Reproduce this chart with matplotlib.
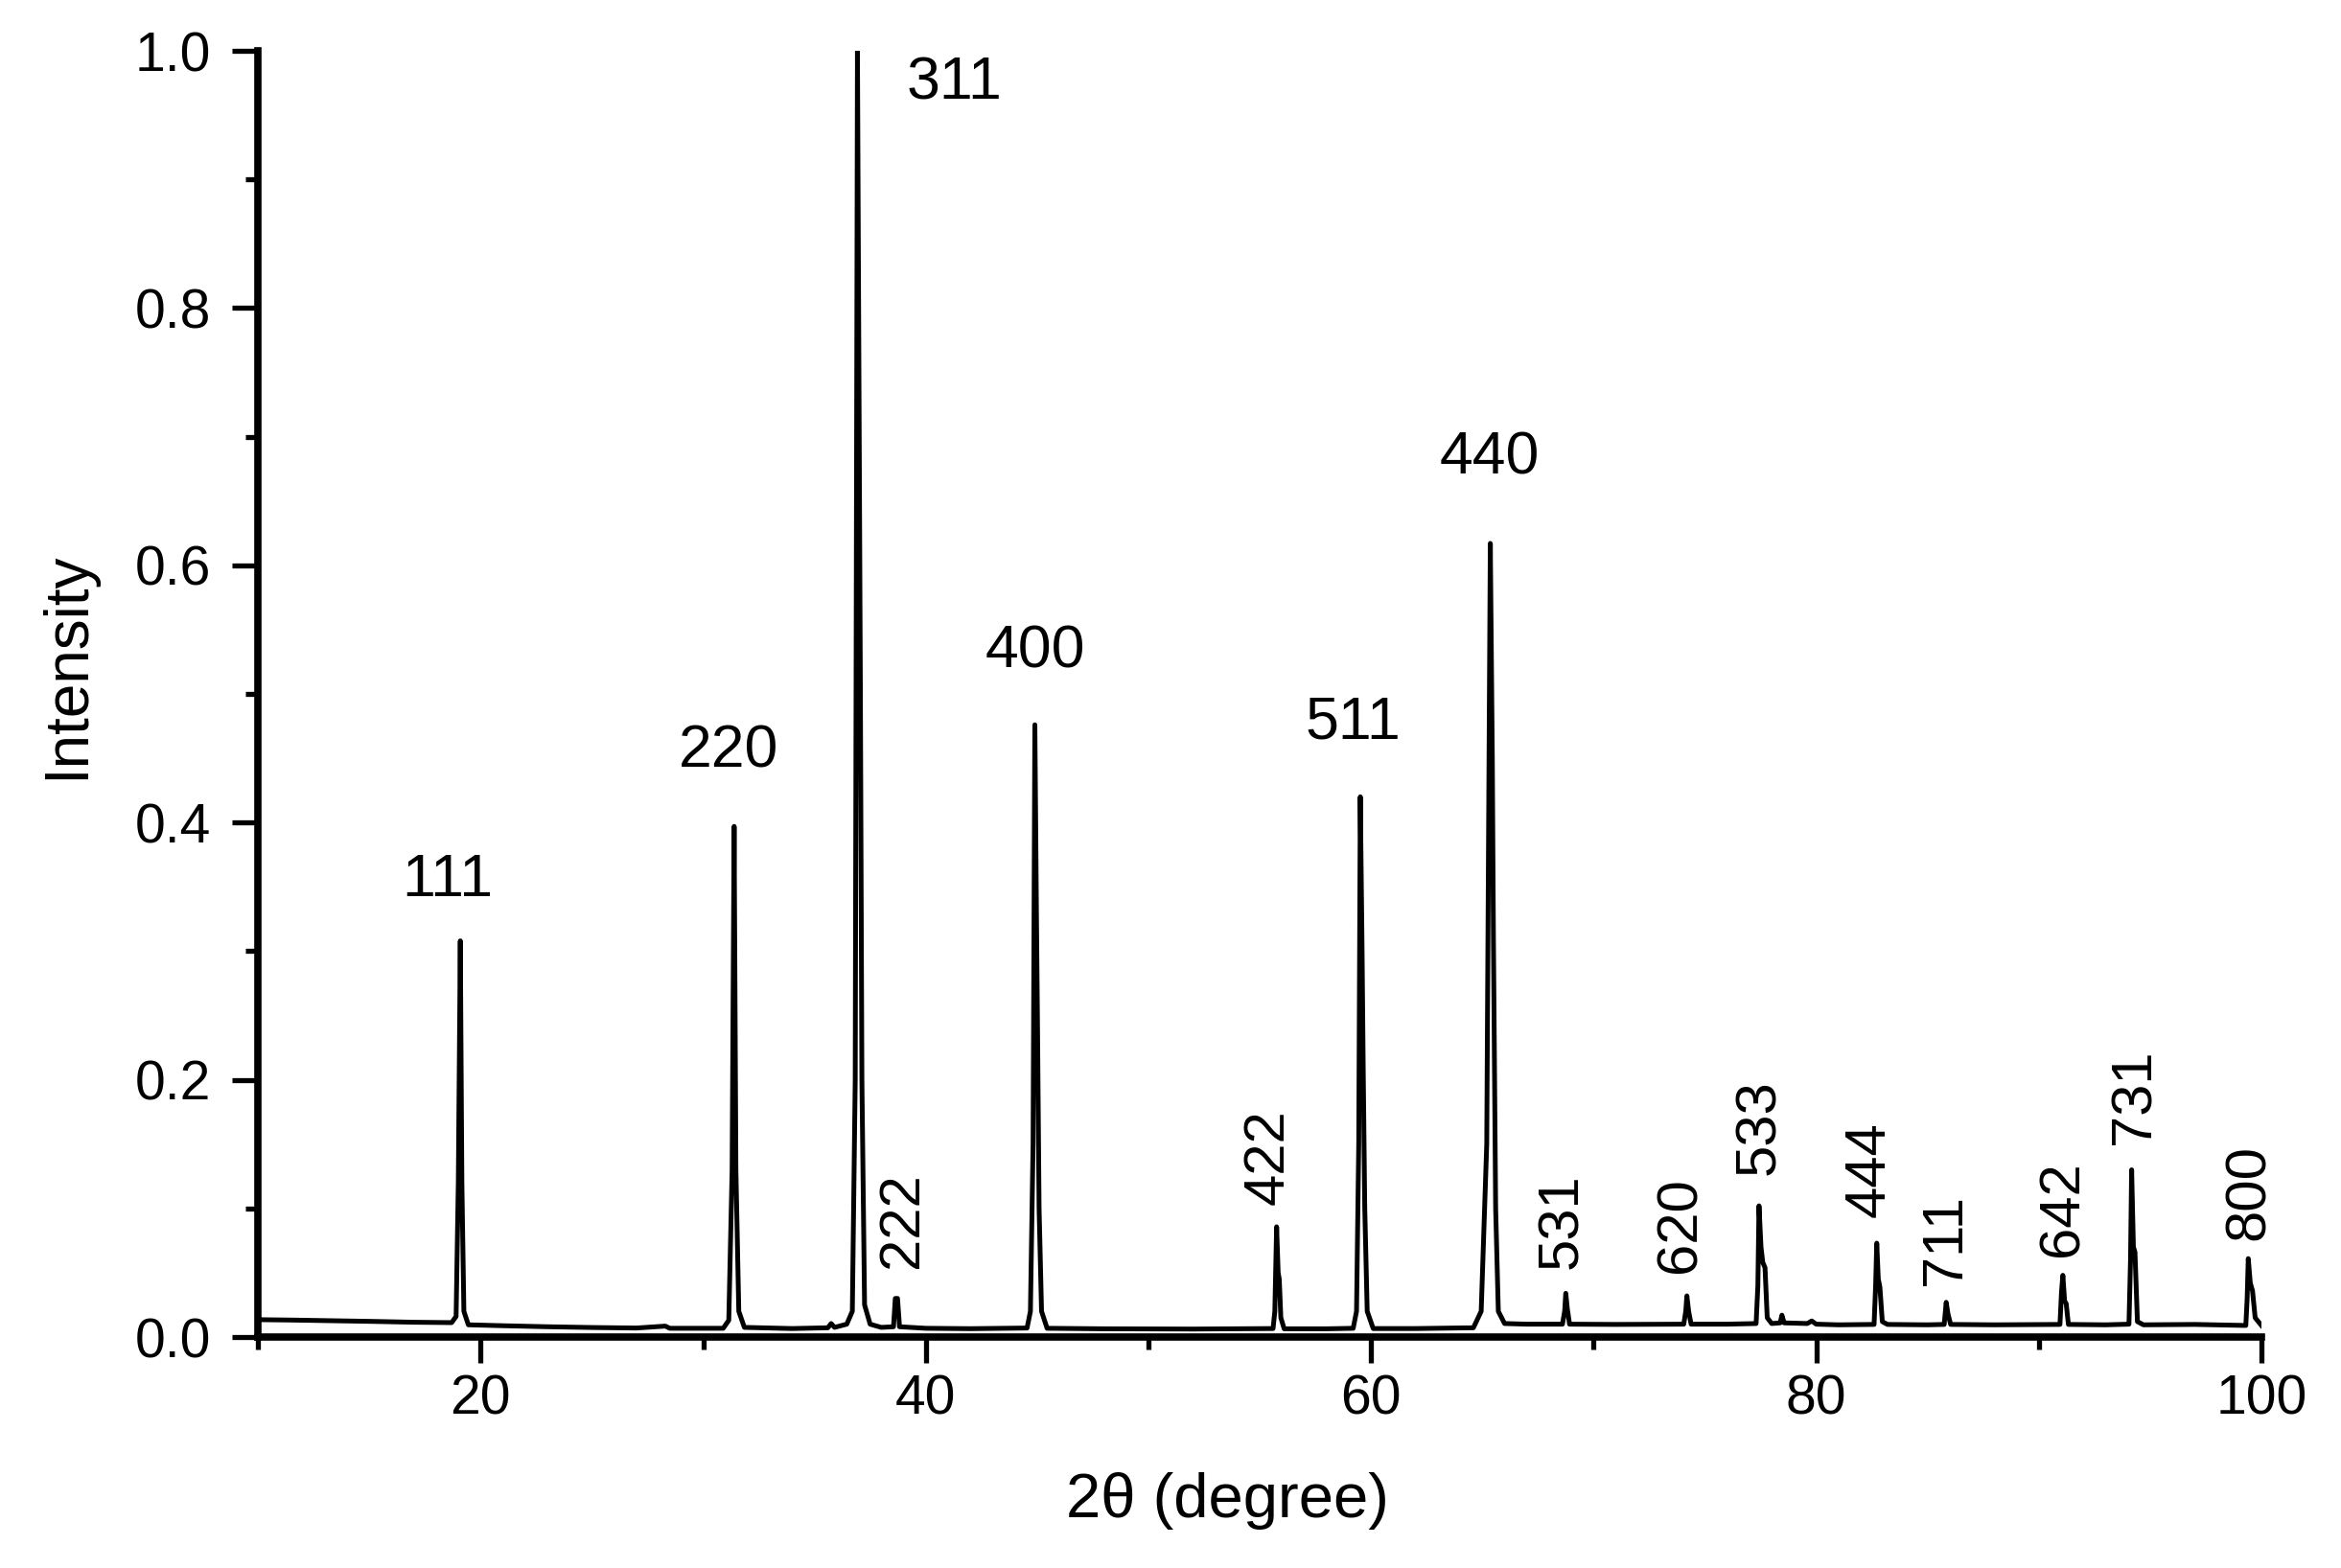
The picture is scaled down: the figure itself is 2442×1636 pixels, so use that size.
import matplotlib
matplotlib.use('Agg')
import matplotlib.pyplot as plt
from matplotlib.ticker import MultipleLocator

plt.rcParams['font.family'] = ['Liberation Sans', 'DejaVu Sans']

# XRD pattern (2theta in degree, normalised intensity)
two_theta = [
    10.0, 11.5, 13.0, 15.0, 17.0, 18.7,
    18.9, 19.0, 19.09, 19.16, 19.25, 19.45,
    21.0, 23.0, 25.0, 27.0, 28.3, 28.5, 30.9,
    31.15, 31.3, 31.39, 31.47, 31.6, 31.85,
    34.0, 35.6, 35.75, 35.9, 36.45,
    36.7, 36.83, 36.93, 37.01, 37.06, 37.13, 37.25, 37.5, 38.0,
    38.55, 38.63, 38.73, 38.82,
    40.0, 42.0, 44.55,
    44.7, 44.82, 44.90, 44.97, 45.02, 45.09, 45.2, 45.45,
    48.0, 50.0, 52.0, 54.0, 55.6,
    55.68, 55.76, 55.83, 55.88, 55.95, 56.1,
    58.0, 59.2,
    59.35, 59.45, 59.52, 59.6, 59.65, 59.72, 59.83, 60.1,
    62.0, 64.6,
    64.95, 65.2, 65.36, 65.45, 65.5, 65.6, 65.72, 66.0,
    67.0, 68.6, 68.7, 68.75, 68.82, 68.92,
    71.0, 74.05, 74.14, 74.19, 74.27, 74.38,
    76.0, 77.3, 77.38, 77.43, 77.52, 77.6, 77.7, 77.8, 78.0,
    78.38, 78.46, 78.56, 79.6, 79.8, 80.0,
    81.0, 82.6, 82.67, 82.72, 82.79, 82.86, 82.97, 83.2,
    85.0, 85.75, 85.84, 85.92, 86.04,
    88.0, 90.95, 91.02, 91.08, 91.16, 91.23, 91.33,
    93.0, 94.05, 94.12, 94.17, 94.25, 94.32, 94.43, 94.7,
    97.0, 99.3, 99.36, 99.41, 99.5, 99.6, 99.72, 100.0,
]
intensity = [
    0.0135, 0.0132, 0.0128, 0.0122, 0.0115, 0.0112,
    0.016, 0.12, 0.308, 0.12, 0.02, 0.0095,
    0.0088, 0.0080, 0.0074, 0.0070, 0.0085, 0.0068, 0.0068,
    0.013, 0.13, 0.397, 0.13, 0.02, 0.0075,
    0.0066, 0.0072, 0.0105, 0.0075, 0.010,
    0.02, 0.2, 1.0, 0.70, 0.51, 0.2, 0.025, 0.010, 0.0075,
    0.0080, 0.030, 0.030, 0.0080,
    0.0068, 0.0065, 0.0070,
    0.02, 0.15, 0.476, 0.33, 0.24, 0.10, 0.02, 0.0068,
    0.0064, 0.0063, 0.0062, 0.0064, 0.0066,
    0.02, 0.0857, 0.05, 0.045, 0.015, 0.0064,
    0.0064, 0.0068,
    0.02, 0.15, 0.420, 0.30, 0.21, 0.10, 0.02, 0.0066,
    0.0066, 0.0072,
    0.02, 0.15, 0.617, 0.45, 0.31, 0.10, 0.02, 0.0105,
    0.0100, 0.0100, 0.020, 0.034, 0.022, 0.0100,
    0.0098, 0.0100, 0.020, 0.032, 0.020, 0.0100,
    0.0100, 0.0105, 0.04, 0.102, 0.07, 0.058, 0.054, 0.015, 0.0105,
    0.011, 0.017, 0.011, 0.0105, 0.0125, 0.0100,
    0.0095, 0.0098, 0.04, 0.073, 0.045, 0.039, 0.012, 0.0098,
    0.0095, 0.0098, 0.027, 0.018, 0.0098,
    0.0095, 0.0098, 0.035, 0.048, 0.028, 0.026, 0.0098,
    0.0095, 0.0100, 0.06, 0.130, 0.07, 0.066, 0.012, 0.0095,
    0.0098, 0.0090, 0.03, 0.061, 0.042, 0.036, 0.015, 0.0090,
]

# Miller index labels and where they sit
hkl = ['111', '220', '311', '400', '511', '440',
       '222', '422', '531', '620', '533', '444', '711', '642', '731', '800']
hkl_x = [18.53, 31.15, 41.3, 44.93, 59.18, 65.32,
         38.94, 55.39, 68.57, 73.89, 77.45, 82.41, 85.82, 91.07, 94.32, 99.45]
hkl_y = [0.355, 0.455, 0.975, 0.533, 0.478, 0.683,
         0.091, 0.140, 0.090, 0.087, 0.163, 0.130, 0.076, 0.100, 0.187, 0.1125]
hkl_rot = [0, 0, 0, 0, 0, 0,
           90, 90, 90, 90, 90, 90, 90, 90, 90, 90]

fig = plt.figure(figsize=(24.42, 16.36), dpi=100)
ax = fig.add_axes([0.1102, 0.1473, 0.8558, 0.8203])

ax.plot(two_theta, intensity, color='black', lw=3.6, solid_joinstyle='round')

for lab, x, y, r in zip(hkl, hkl_x, hkl_y, hkl_rot):
    ax.text(x, y, lab, rotation=r, ha='center', va='center',
            fontsize=45 if r == 0 else 43)

ax.set_xlim(10, 100)
ax.set_ylim(0, 1.0)
ax.set_xticks([20, 40, 60, 80, 100])
ax.xaxis.set_minor_locator(MultipleLocator(10))
ax.set_yticks([0.0, 0.2, 0.4, 0.6, 0.8, 1.0])
ax.yaxis.set_minor_locator(MultipleLocator(0.1))

for s in ['top', 'right']:
    ax.spines[s].set_visible(False)
for s in ['left', 'bottom']:
    ax.spines[s].set_linewidth(5.5)

ax.tick_params(which='major', direction='out', length=19.5, width=3.8, labelsize=41)
ax.tick_params(which='minor', direction='out', length=9.5, width=3.8)
ax.tick_params(axis='y', which='major', pad=16)
ax.tick_params(axis='x', which='major', pad=8)

ax.set_xlabel('2θ (degree)', fontsize=47)
ax.set_ylabel('Intensity', fontsize=46)
ax.xaxis.set_label_coords(0.484, -0.105)
ax.yaxis.set_label_coords(-0.081, 0.522)

fig.savefig('out.png', dpi=100, facecolor='white')
